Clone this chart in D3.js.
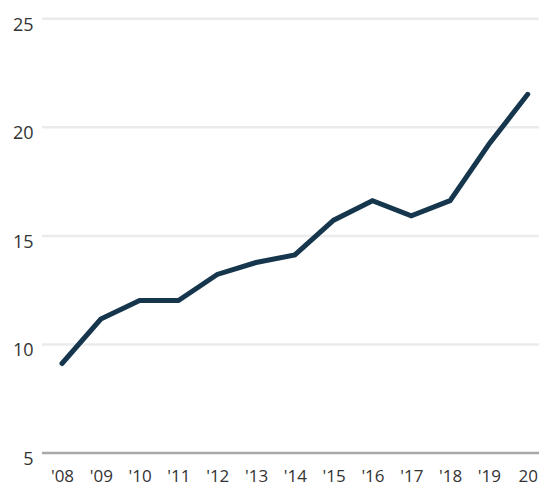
<!DOCTYPE html>
<html>
<head>
<meta charset="utf-8">
<script src="https://cdn.jsdelivr.net/npm/d3@7"></script>
<style>
  html, body { margin: 0; padding: 0; background: #fff; }
  svg text { font-family: "Open Sans", "Noto Sans", sans-serif; fill: #333; }
</style>
</head>
<body>
<div id="chart"></div>
<script>
var years = ["'08", "'09", "'10", "'11", "'12", "'13", "'14", "'15", "'16", "'17", "'18", "'19", "20"];
var values = [9.1, 11.15, 12.0, 12.0, 13.2, 13.75, 14.1, 15.7, 16.6, 15.9, 16.6, 19.2, 21.5];
var yTicks = [5, 10, 15, 20, 25];

var width = 539,
    height = 487;

var x = d3.scalePoint()
    .domain(years)
    .range([62, 527.7]);

var y = d3.scaleLinear()
    .domain([5, 25])
    .range([452.5, 18.3]);

var svg = d3.select("#chart").append("svg")
    .attr("width", width)
    .attr("height", height);

// gridlines
var yAxis = d3.axisLeft(y)
    .tickValues(yTicks)
    .tickSize(0)
    .tickPadding(0);

var gy = svg.append("g")
    .attr("class", "axis axis--y")
    .attr("transform", "translate(42,0)")
    .call(yAxis);

gy.select(".domain").remove();

gy.selectAll(".tick line")
    .attr("x1", 0)
    .attr("x2", width - 42)
    .attr("stroke", function(d) { return d === 5 ? "#a8a8a8" : "#ebebeb"; })
    .attr("stroke-width", 2.5);

gy.selectAll(".tick text")
    .attr("x", -8.5)
    .attr("dy", null)
    .attr("y", 11.7)
    .attr("text-anchor", "end")
    .style("font-size", "18px");

var xAxis = d3.axisBottom(x)
    .tickSize(0)
    .tickPadding(0);

var gx = svg.append("g")
    .attr("class", "axis axis--x")
    .attr("transform", "translate(0,452.5)")
    .call(xAxis);

gx.select(".domain").remove();

gx.selectAll(".tick text")
    .attr("dy", null)
    .attr("y", 29.5)
    .style("font-size", "17px");

var line = d3.line()
    .x(function(d, i) { return x(years[i]); })
    .y(function(d) { return y(d); });

svg.append("path")
    .datum(values)
    .attr("class", "line")
    .attr("fill", "none")
    .attr("stroke", "#15364c")
    .attr("stroke-width", 5)
    .attr("stroke-linecap", "round")
    .attr("stroke-linejoin", "miter")
    .attr("d", line);
</script>
</body>
</html>
